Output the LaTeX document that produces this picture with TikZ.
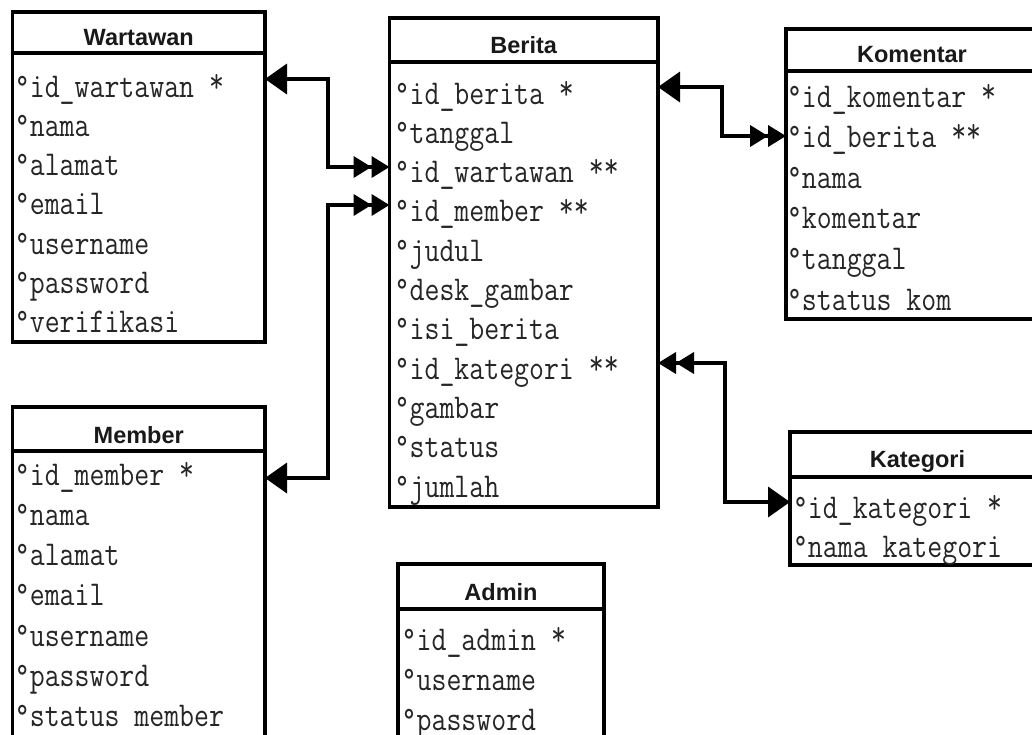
\documentclass[tikz,border=0pt]{standalone}
\usepackage{fontspec}
\usepackage{graphicx}
\usetikzlibrary{arrows.meta}
\newfontfamily\ttlfont{Liberation Sans}
\newcommand{\fldtxt}[1]{\scalebox{1}[1.2]{#1}}
\newcommand{\rsk}{\raisebox{4pt}{*}}
\begin{document}
\begin{tikzpicture}[x=1pt,y=-1pt,
  ent/.style={draw, line width=3.2pt, inner sep=0pt, outer sep=0pt, anchor=north west},
  hdr/.style={line width=3.2pt},
  ttl/.style={font=\ttlfont\bfseries\fontsize{23.5}{24}\selectfont, anchor=base, inner sep=0pt, text=black!90},
  fld/.style={font=\ttfamily\fontsize{29}{29}\selectfont, anchor=base west, inner sep=0pt, text=black!85},
  rel/.style={line width=3.8pt, line join=miter},
  onemany/.style={arrows={{Triangle[length=22pt,width=30pt]}-{Triangle[length=18pt,width=21pt,sep=0pt]Triangle[length=18pt,width=21pt,sep=0pt]}}},
  manyone/.style={arrows={{Triangle[length=18pt,width=21pt,sep=0pt]Triangle[length=18pt,width=21pt,sep=0pt]}-{Triangle[length=22pt,width=30pt]}}},
  ]
\useasboundingbox (0,0) rectangle (1032,734);
\fill[white] (0,0) rectangle (1032,734);
\clip (0,0) rectangle (1032,734);

% Wartawan
\node[ent, minimum width=252.5pt, minimum height=330pt] (W) at (12.5,12) {};
\draw[hdr] (W.west |- 0,53) -- (W.east |- 0,53);
\node[ttl] (Wt) at (138.75,45) {Wartawan};
\foreach \t [count=\i from 0] in {°id\_wartawan \rsk,°nama,°alamat,°email,°username,°password,°verifikasi}
  \node[fld] (w\i) at (14.7,{97+39.3*\i}) {\fldtxt{\t}};

% Berita
\node[ent, minimum width=268.5pt, minimum height=489pt] (B) at (389.5,18) {};
\draw[hdr] (B.west |- 0,62) -- (B.east |- 0,62);
\node[ttl] (Bt) at (523.75,53.5) {Berita};
\foreach \t [count=\i from 0] in {°id\_berita \rsk,°tanggal,°id\_wartawan \rsk\rsk,°id\_member \rsk\rsk,°judul,°desk\_gambar,°isi\_berita,°id\_kategori \rsk\rsk,°gambar,°status,°jumlah}
  \node[fld] (b\i) at (394.5,{104+39.3*\i}) {\fldtxt{\t}};

% Komentar
\node[ent, minimum width=254pt, minimum height=290pt] (K) at (786,29) {};
\draw[hdr] (K.west |- 0,71) -- (K.east |- 0,71);
\node[ttl] (Kt) at (912,62.7) {Komentar};
\foreach \t [count=\i from 0] in {°id\_komentar \rsk,°id\_berita \rsk\rsk,°nama,°komentar,°tanggal,°status kom}
  \node[fld] (k\i) at (786.8,{107+40.6*\i}) {\fldtxt{\t}};

% Kategori
\node[ent, minimum width=255pt, minimum height=133pt] (C) at (790,432) {};
\draw[hdr] (C.west |- 0,477) -- (C.east |- 0,477);
\node[ttl] (Ct) at (917.5,467) {Kategori};
\foreach \t [count=\i from 0] in {°id\_kategori \rsk,°nama kategori}
  \node[fld] (c\i) at (792.8,{518+39*\i}) {\fldtxt{\t}};

% Member
\node[ent, minimum width=252.5pt, minimum height=360pt] (M) at (12.5,407) {};
\draw[hdr] (M.west |- 0,451) -- (M.east |- 0,451);
\node[ttl] (Mt) at (138.75,443) {Member};
\foreach \t [count=\i from 0] in {°id\_member \rsk,°nama,°alamat,°email,°username,°password,°status member}
  \node[fld] (m\i) at (14.7,{485+40.3*\i}) {\fldtxt{\t}};

% Admin
\node[ent, minimum width=206pt, minimum height=200pt] (A) at (398,564) {};
\draw[hdr] (A.west |- 0,609) -- (A.east |- 0,609);
\node[ttl] (At) at (501,600) {Admin};
\foreach \t [count=\i from 0] in {°id\_admin \rsk,°username,°password}
  \node[fld] (a\i) at (401.5,{650+40*\i}) {\fldtxt{\t}};

% Relationships
\coordinate (e1) at (328,79);  \coordinate (e2) at (328,167);
\coordinate (e3) at (328,478); \coordinate (e4) at (328,205);
\coordinate (e5) at (722,87);  \coordinate (e6) at (722,136);
\coordinate (e7) at (725,363); \coordinate (e8) at (725,502);

\draw[rel, onemany] (W.east |- e1) -- (e1) -- (e2) -- (B.west |- e2);
\draw[rel, onemany] (M.east |- e3) -- (e3) -- (e4) -- (B.west |- e4);
\draw[rel, onemany] (B.east |- e5) -- (e5) -- (e6) -- (K.west |- e6);
\draw[rel, manyone] (B.east |- e7) -- (e7) -- (e8) -- (C.west |- e8);
\end{tikzpicture}
\end{document}
